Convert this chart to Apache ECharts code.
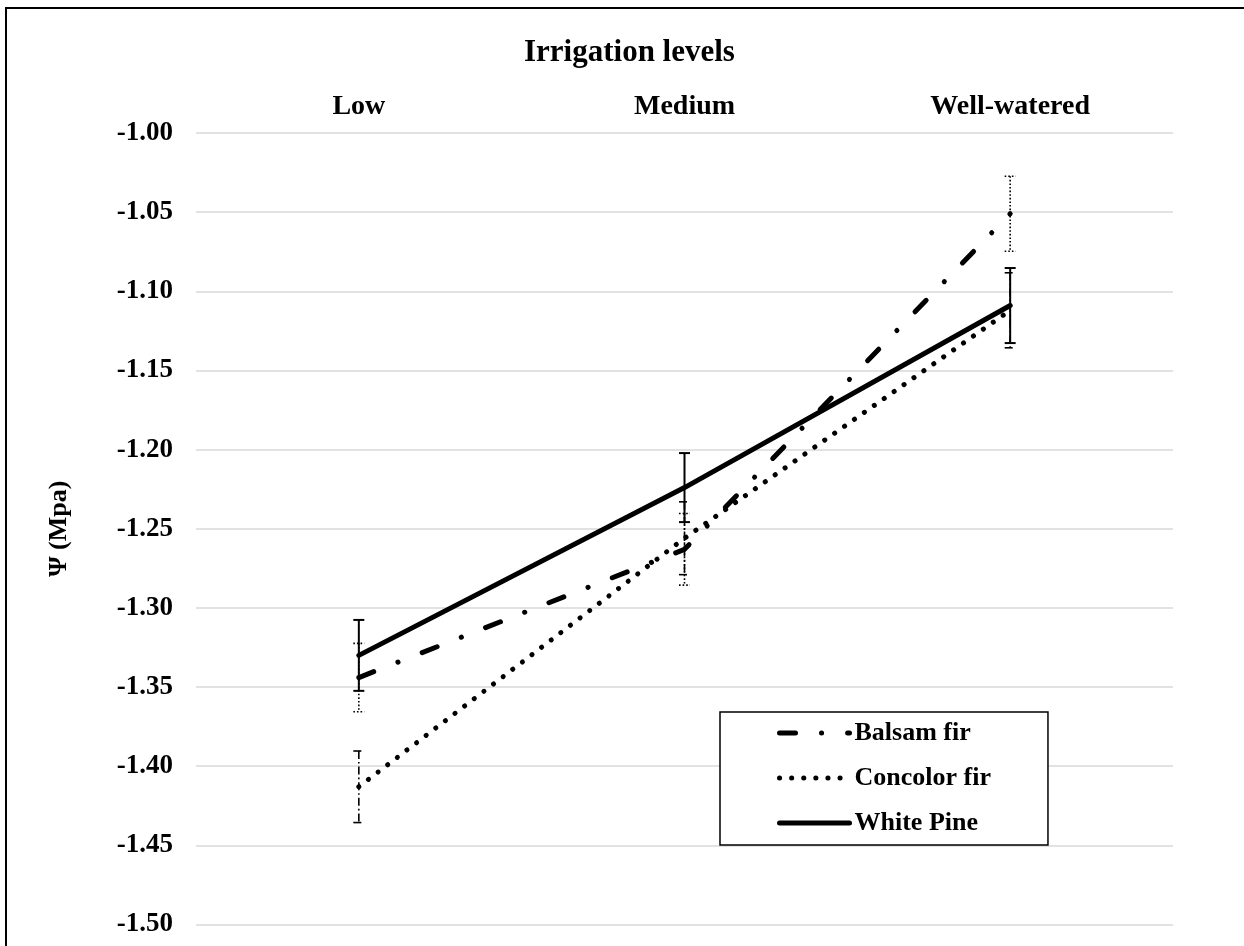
<!DOCTYPE html>
<html>
<head>
<meta charset="utf-8">
<script src="https://cdn.jsdelivr.net/npm/echarts@6/dist/echarts.min.js"></script>
<style>
html,body{margin:0;padding:0;background:#fff;}
#chart{width:1244px;height:946px;}
</style>
</head>
<body>
<div id="chart"></div>
<script>
var categories = ['Low', 'Medium', 'Well-watered'];
var yTicks = ['-1.00','-1.05','-1.10','-1.15','-1.20','-1.25','-1.30','-1.35','-1.40','-1.45','-1.50'];
var balsamFir = [-1.344, -1.263, -1.051];
var balsamErr = [0.0216, 0.0226, 0.0237];
var concolorFir = [-1.413, -1.256, -1.112];
var concolorErr = [0.0226, 0.0230, 0.0237];
var whitePine = [-1.330, -1.224, -1.109];
var whiteErr = [0.0224, 0.0218, 0.0237];

var FONT = 'Liberation Serif';

function errData(vals, errs) {
  return vals.map(function (v, i) { return [i, v - errs[i], v + errs[i]]; });
}
function errSeries(name, vals, errs, dash, lw) {
  return {
    type: 'custom',
    name: name + ' err',
    silent: true,
    z: 1,
    data: errData(vals, errs),
    renderItem: function (params, api) {
      var lo = api.coord([api.value(0), api.value(1)]);
      var hi = api.coord([api.value(0), api.value(2)]);
      var hw = 5.5;
      var st = { stroke: '#000', lineWidth: lw, lineDash: dash };
      return {
        type: 'group',
        children: [
          { type: 'line', shape: { x1: hi[0], y1: hi[1], x2: lo[0], y2: lo[1] }, style: st },
          { type: 'line', shape: { x1: hi[0] - hw, y1: hi[1], x2: hi[0] + hw, y2: hi[1] }, style: st },
          { type: 'line', shape: { x1: lo[0] - hw, y1: lo[1], x2: lo[0] + hw, y2: lo[1] }, style: st }
        ]
      };
    }
  };
}

var chart = echarts.init(document.getElementById('chart'));
chart.setOption({
  backgroundColor: '#fff',
  animation: false,
  title: {
    text: 'Irrigation levels',
    left: 519, top: 32,
    textStyle: { fontFamily: FONT, fontWeight: 'bold', fontSize: 31, color: '#000' }
  },
  graphic: [{
    type: 'rect', silent: true, z: 100,
    shape: { x: 6, y: 8, width: 1400, height: 1100 },
    style: { fill: 'none', stroke: '#000', lineWidth: 2 }
  }],
  legend: {
    data: ['Balsam fir', 'Concolor fir', 'White Pine'],
    orient: 'vertical',
    left: 720, top: 712,
    padding: [8, 57, 9, 57],
    itemWidth: 70, itemHeight: 26, itemGap: 19,
    borderColor: '#000', borderWidth: 1.5,
    backgroundColor: '#fff',
    lineStyle: { width: 5 },
    itemStyle: { color: 'rgba(0,0,0,0)', borderWidth: 0, opacity: 0 },
    textStyle: { fontFamily: FONT, fontWeight: 'bold', fontSize: 26, color: '#000' }
  },
  grid: { left: 196, right: 71, top: 133, bottom: 21.5, containLabel: false },
  xAxis: {
    type: 'category',
    position: 'top',
    data: categories,
    boundaryGap: true,
    axisLine: { show: false },
    axisTick: { show: false },
    axisLabel: { margin: 12, fontFamily: FONT, fontWeight: 'bold', fontSize: 28, color: '#000' }
  },
  yAxis: {
    type: 'value',
    min: -1.5, max: -1.0, interval: 0.05,
    name: 'Ψ (Mpa)',
    nameLocation: 'middle',
    nameRotate: 90,
    nameGap: 124,
    nameTextStyle: { fontFamily: FONT, fontWeight: 'bold', fontSize: 26, color: '#000' },
    axisLine: { show: false },
    axisTick: { show: false },
    splitLine: { lineStyle: { color: '#d9d9d9', width: 1.5 } },
    axisLabel: {
      margin: 23, fontFamily: FONT, fontWeight: 'bold', fontSize: 27, color: '#000',
      formatter: function (v) {
        var idx = Math.round((v + 1.0) / -0.05);
        return yTicks[idx] !== undefined ? yTicks[idx] : v.toFixed(2);
      }
    }
  },
  series: [
    errSeries('Balsam fir', balsamFir, balsamErr, [1.6, 2], 1.6),
    errSeries('Concolor fir', concolorFir, concolorErr, [8, 3, 1.6, 3], 1.6),
    errSeries('White Pine', whitePine, whiteErr, null, 2),
    {
      name: 'Balsam fir', type: 'line', data: balsamFir, symbol: 'none', z: 3,
      lineStyle: { color: '#000', width: 5, type: [16, 26, 0.1, 26], cap: 'round' },
      itemStyle: { color: '#000' }
    },
    {
      name: 'Concolor fir', type: 'line', data: concolorFir, symbol: 'none', z: 3,
      lineStyle: { color: '#000', width: 5, type: [0.1, 12], cap: 'round' },
      itemStyle: { color: '#000' }
    },
    {
      name: 'White Pine', type: 'line', data: whitePine, symbol: 'none', z: 3,
      lineStyle: { color: '#000', width: 5, type: 'solid', cap: 'round' },
      itemStyle: { color: '#000' }
    }
  ]
});
</script>
</body>
</html>
